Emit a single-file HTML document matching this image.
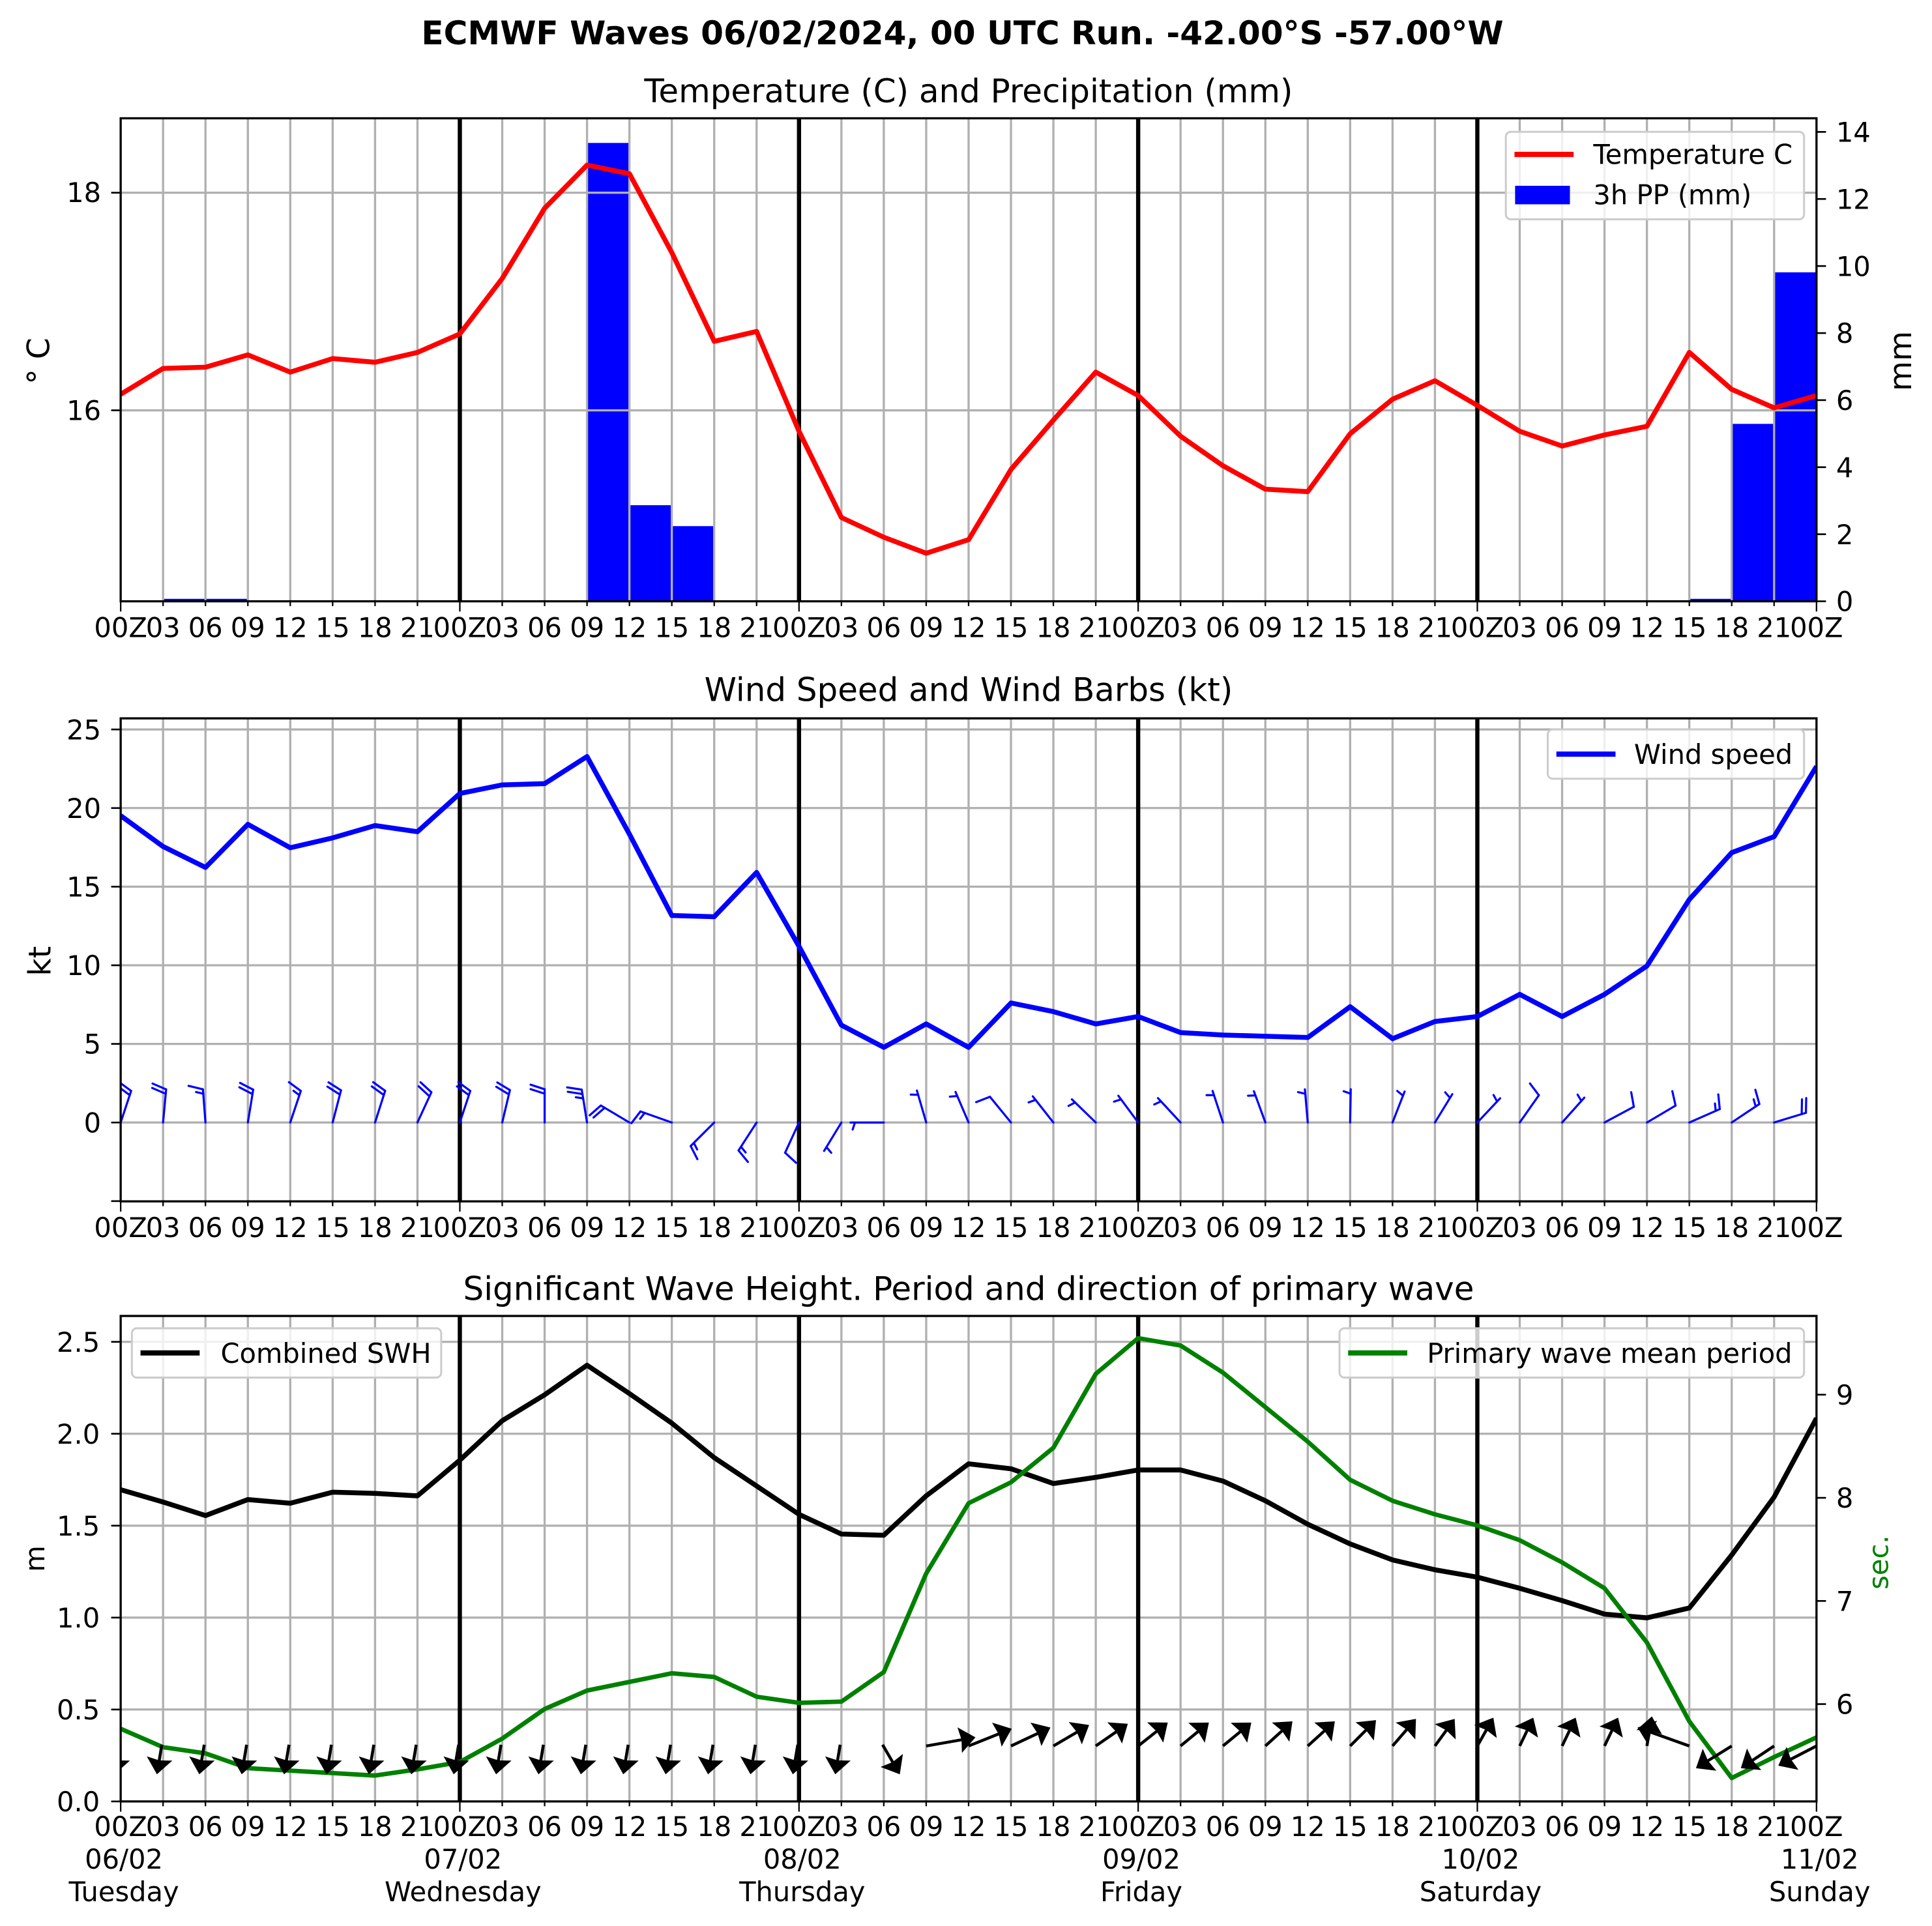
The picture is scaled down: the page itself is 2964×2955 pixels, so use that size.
<!DOCTYPE html>
<html><head><meta charset="utf-8">
<style>
html,body{margin:0;padding:0;background:#fff;}
svg{display:block;}
text{font-family:"DejaVu Sans","Liberation Sans",sans-serif;fill:#000;}
.t{font-size:22px;}
.xl text{font-size:22px;text-anchor:middle;}
.yl{font-size:22px;text-anchor:end;}
.yr{font-size:22px;text-anchor:start;}
</style></head>
<body>
<svg id="s" xmlns="http://www.w3.org/2000/svg" width="2964" height="2955" viewBox="0 0 1567.8 1563.1">
<defs>
<clipPath id="c1"><rect x="97.9" y="96" width="1376.2" height="392"/></clipPath>
<clipPath id="c2"><rect x="97.9" y="583" width="1376.2" height="392"/></clipPath>
<clipPath id="c3"><rect x="97.9" y="1068" width="1376.2" height="394"/></clipPath>
</defs>
<rect width="1567.8" height="1563.1" fill="#fff"/>
<g id="geo"></g>

<text x="781" y="36" style="font-size:26.5px;font-weight:bold" text-anchor="middle">ECMWF Waves 06/02/2024, 00 UTC Run. -42.00°S -57.00°W</text>
<text x="786" y="83" style="font-size:26.4px" text-anchor="middle">Temperature (C) and Precipitation (mm)</text>
<text x="786" y="569" style="font-size:26.4px" text-anchor="middle">Wind Speed and Wind Barbs (kt)</text>
<text x="786" y="1055" style="font-size:26.4px" text-anchor="middle">Significant Wave Height. Period and direction of primary wave</text>

<text transform="translate(40,293) rotate(-90)" style="font-size:25px" text-anchor="middle">° C</text>
<text transform="translate(1551,293) rotate(-90)" style="font-size:25px" text-anchor="middle">mm</text>
<text transform="translate(41,780) rotate(-90)" style="font-size:25px" text-anchor="middle">kt</text>
<text transform="translate(36,1265) rotate(-90)" style="font-size:22px" text-anchor="middle">m</text>
<text transform="translate(1532,1268) rotate(-90)" style="font-size:22px;fill:#008000" text-anchor="middle">sec.</text>

<text class="yl" x="82" y="164">18</text>
<text class="yl" x="82" y="341">16</text>
<text class="yr" x="1490" y="496">0</text>
<text class="yr" x="1490" y="441.6">2</text>
<text class="yr" x="1490" y="387.2">4</text>
<text class="yr" x="1490" y="332.8">6</text>
<text class="yr" x="1490" y="278.3">8</text>
<text class="yr" x="1490" y="223.9">10</text>
<text class="yr" x="1490" y="169.5">12</text>
<text class="yr" x="1490" y="115.1">14</text>

<text class="yl" x="82" y="600">25</text>
<text class="yl" x="82" y="663.8">20</text>
<text class="yl" x="82" y="727.6">15</text>
<text class="yl" x="82" y="791.4">10</text>
<text class="yl" x="82" y="855.2">5</text>
<text class="yl" x="82" y="919">0</text>

<text class="yl" x="81" y="1097">2.5</text>
<text class="yl" x="81" y="1171.6">2.0</text>
<text class="yl" x="81" y="1246.2">1.5</text>
<text class="yl" x="81" y="1320.8">1.0</text>
<text class="yl" x="81" y="1395.4">0.5</text>
<text class="yl" x="81" y="1470">0.0</text>
<text class="yr" x="1490" y="1140">9</text>
<text class="yr" x="1490" y="1223.6">8</text>
<text class="yr" x="1490" y="1307.3">7</text>
<text class="yr" x="1490" y="1391">6</text>

<g class="xl">
<text x="97.9" y="517">00Z</text><text x="132.3" y="517">03</text><text x="166.7" y="517">06</text><text x="201.1" y="517">09</text><text x="235.5" y="517">12</text><text x="269.9" y="517">15</text><text x="304.3" y="517">18</text><text x="338.7" y="517">21</text>
<text x="373.1" y="517">00Z</text><text x="407.5" y="517">03</text><text x="441.95" y="517">06</text><text x="476.4" y="517">09</text><text x="510.8" y="517">12</text><text x="545.2" y="517">15</text><text x="579.6" y="517">18</text><text x="614" y="517">21</text>
<text x="648.4" y="517">00Z</text><text x="682.8" y="517">03</text><text x="717.2" y="517">06</text><text x="751.6" y="517">09</text><text x="786" y="517">12</text><text x="820.4" y="517">15</text><text x="854.8" y="517">18</text><text x="889.2" y="517">21</text>
<text x="923.6" y="517">00Z</text><text x="958" y="517">03</text><text x="992.4" y="517">06</text><text x="1026.8" y="517">09</text><text x="1061.2" y="517">12</text><text x="1095.6" y="517">15</text><text x="1130.05" y="517">18</text><text x="1164.5" y="517">21</text>
<text x="1198.9" y="517">00Z</text><text x="1233.3" y="517">03</text><text x="1267.7" y="517">06</text><text x="1302.1" y="517">09</text><text x="1336.5" y="517">12</text><text x="1370.9" y="517">15</text><text x="1405.3" y="517">18</text><text x="1439.7" y="517">21</text>
<text x="1474.1" y="517">00Z</text>
</g>
<g class="xl">
<text x="97.9" y="1004">00Z</text><text x="132.3" y="1004">03</text><text x="166.7" y="1004">06</text><text x="201.1" y="1004">09</text><text x="235.5" y="1004">12</text><text x="269.9" y="1004">15</text><text x="304.3" y="1004">18</text><text x="338.7" y="1004">21</text>
<text x="373.1" y="1004">00Z</text><text x="407.5" y="1004">03</text><text x="441.95" y="1004">06</text><text x="476.4" y="1004">09</text><text x="510.8" y="1004">12</text><text x="545.2" y="1004">15</text><text x="579.6" y="1004">18</text><text x="614" y="1004">21</text>
<text x="648.4" y="1004">00Z</text><text x="682.8" y="1004">03</text><text x="717.2" y="1004">06</text><text x="751.6" y="1004">09</text><text x="786" y="1004">12</text><text x="820.4" y="1004">15</text><text x="854.8" y="1004">18</text><text x="889.2" y="1004">21</text>
<text x="923.6" y="1004">00Z</text><text x="958" y="1004">03</text><text x="992.4" y="1004">06</text><text x="1026.8" y="1004">09</text><text x="1061.2" y="1004">12</text><text x="1095.6" y="1004">15</text><text x="1130.05" y="1004">18</text><text x="1164.5" y="1004">21</text>
<text x="1198.9" y="1004">00Z</text><text x="1233.3" y="1004">03</text><text x="1267.7" y="1004">06</text><text x="1302.1" y="1004">09</text><text x="1336.5" y="1004">12</text><text x="1370.9" y="1004">15</text><text x="1405.3" y="1004">18</text><text x="1439.7" y="1004">21</text>
<text x="1474.1" y="1004">00Z</text>
</g>
<g class="xl">
<text x="97.9" y="1490">00Z</text><text x="132.3" y="1490">03</text><text x="166.7" y="1490">06</text><text x="201.1" y="1490">09</text><text x="235.5" y="1490">12</text><text x="269.9" y="1490">15</text><text x="304.3" y="1490">18</text><text x="338.7" y="1490">21</text>
<text x="373.1" y="1490">00Z</text><text x="407.5" y="1490">03</text><text x="441.95" y="1490">06</text><text x="476.4" y="1490">09</text><text x="510.8" y="1490">12</text><text x="545.2" y="1490">15</text><text x="579.6" y="1490">18</text><text x="614" y="1490">21</text>
<text x="648.4" y="1490">00Z</text><text x="682.8" y="1490">03</text><text x="717.2" y="1490">06</text><text x="751.6" y="1490">09</text><text x="786" y="1490">12</text><text x="820.4" y="1490">15</text><text x="854.8" y="1490">18</text><text x="889.2" y="1490">21</text>
<text x="923.6" y="1490">00Z</text><text x="958" y="1490">03</text><text x="992.4" y="1490">06</text><text x="1026.8" y="1490">09</text><text x="1061.2" y="1490">12</text><text x="1095.6" y="1490">15</text><text x="1130.05" y="1490">18</text><text x="1164.5" y="1490">21</text>
<text x="1198.9" y="1490">00Z</text><text x="1233.3" y="1490">03</text><text x="1267.7" y="1490">06</text><text x="1302.1" y="1490">09</text><text x="1336.5" y="1490">12</text><text x="1370.9" y="1490">15</text><text x="1405.3" y="1490">18</text><text x="1439.7" y="1490">21</text>
<text x="1474.1" y="1490">00Z</text>
<text x="100.5" y="1516.5">06/02</text><text x="100.5" y="1543">Tuesday</text>
<text x="375.7" y="1516.5">07/02</text><text x="375.7" y="1543">Wednesday</text>
<text x="651" y="1516.5">08/02</text><text x="651" y="1543">Thursday</text>
<text x="926.2" y="1516.5">09/02</text><text x="926.2" y="1543">Friday</text>
<text x="1201.5" y="1516.5">10/02</text><text x="1201.5" y="1543">Saturday</text>
<text x="1476.7" y="1516.5">11/02</text><text x="1476.7" y="1543">Sunday</text>
</g>

<g id="leg">
<rect x="1222" y="107" width="242" height="71" rx="4" fill="#fff" fill-opacity="0.8" stroke="#cccccc" stroke-width="1.6"/>
<line x1="1229" y1="125.3" x2="1277" y2="125.3" stroke="#ff0000" stroke-width="4.2"/>
<text class="t" x="1293" y="133">Temperature C</text>
<rect x="1229.5" y="150.8" width="44.5" height="15" fill="#0000ff"/>
<text class="t" x="1293" y="165.7">3h PP (mm)</text>

<rect x="1256" y="592" width="208" height="40" rx="4" fill="#fff" fill-opacity="0.8" stroke="#cccccc" stroke-width="1.6"/>
<line x1="1263" y1="612" x2="1311" y2="612" stroke="#0000ff" stroke-width="4.2"/>
<text class="t" x="1326" y="620">Wind speed</text>

<rect x="107" y="1078" width="251" height="40" rx="4" fill="#fff" fill-opacity="0.8" stroke="#cccccc" stroke-width="1.6"/>
<line x1="114" y1="1098" x2="162" y2="1098" stroke="#000" stroke-width="4.2"/>
<text class="t" x="179" y="1106">Combined SWH</text>

<rect x="1087" y="1078" width="377" height="40" rx="4" fill="#fff" fill-opacity="0.8" stroke="#cccccc" stroke-width="1.6"/>
<line x1="1094" y1="1098" x2="1142" y2="1098" stroke="#008000" stroke-width="4.2"/>
<text class="t" x="1158" y="1106">Primary wave mean period</text>
</g>
</svg>
<script>
(function(){
var NS="http://www.w3.org/2000/svg";
var g=document.getElementById('geo');
function el(n,a,p){var e=document.createElementNS(NS,n);for(var k in a)e.setAttribute(k,a[k]);(p||g).appendChild(e);return e;}
function X(i){return 97.9+34.405*i;}
var L=97.9,R=1474.1;
var P=[[96,488],[583,975],[1068,1462]];
var GR="#b0b0b0",GW=1.76;
var bars={1:486,2:486,11:116,12:410,13:427,37:486,38:344,39:221};
var gb=el('g',{'clip-path':'url(#c1)'});
for(var k in bars){el('rect',{x:X(+k),y:bars[k],width:34.405,height:488-bars[k],fill:'#0000ff'},gb);}
P.forEach(function(p){
  for(var i=1;i<40;i++){ if(i%8)el('line',{x1:X(i),y1:p[0],x2:X(i),y2:p[1],stroke:GR,'stroke-width':GW});}
});
[156.4,333].forEach(function(y){el('line',{x1:L,y1:y,x2:R,y2:y,stroke:GR,'stroke-width':GW});});
for(var k=0;k<=25;k+=5){var y=911-12.76*k;el('line',{x1:L,y1:y,x2:R,y2:y,stroke:GR,'stroke-width':GW});}
for(var m=0.5;m<=2.5;m+=0.5){var y=1462-149.2*m;el('line',{x1:L,y1:y,x2:R,y2:y,stroke:GR,'stroke-width':GW});}
P.forEach(function(p){[8,16,24,32].forEach(function(i){el('line',{x1:X(i),y1:p[0],x2:X(i),y2:p[1],stroke:'#000',"stroke-width":3.4});});});
function poly(arr,col,w,clip){var pts=arr.map(function(y,i){return X(i).toFixed(2)+','+y;}).join(' ');
 el('polyline',{points:pts,fill:'none',stroke:col,'stroke-width':w,'stroke-linejoin':'round','clip-path':'url(#'+clip+')'});}
var T=[320,299,298,288,302,291,294,286,271,226,169,134,141,205,277,269,350,420,436,449,438,381,341,302,321,354,378,397,399,352,324,309,329,350,362,353,346,286,316,331,321];
var W=[662,687,704,669,688,680,670,675,644,637,636,614,677,743,744,708,768,832,850,831,850,814,821,831,825,838,840,841,842,817,843,829,825,807,825,807,784,730,692,679,622];
var S=[1209,1219,1230,1217,1220,1211,1212,1214,1185,1153,1132,1108,1131,1155,1183,1206,1229,1245,1246,1214,1188,1192,1204,1199,1193,1193,1202,1218,1237,1253,1266,1274,1280,1289,1299,1310,1313,1305,1262,1215,1151];
var G=[1403,1418,1423,1435,1437,1439,1441,1436,1430,1411,1387,1372,1365,1358,1361,1377,1382,1381,1357,1277,1220,1203,1175,1115,1086,1092,1114,1142,1170,1201,1218,1229,1238,1250,1268,1289,1333,1397,1443,1426,1410];
poly(T,'#ff0000',4,'c1');
poly(W,'#0000ff',4,'c2');
var D=[[8.6,-26],[2.6,-28],[-2,-26],[4.4,-27],[8.7,-26],[7,-27],[8.6,-27],[10.6,-23],[8.6,-26],[6.4,-27],[0,-26],[-4.5,-28],[-23.9,-14.2],[-25.5,-9],[-18.6,18.6],[-14.6,22.6],[-11.3,24.6],[-14,23],[-26.7,0],[-7.7,-26.5],[-11,-25.7],[-18,-22],[-17,-21.6],[-19.6,-19],[-16,-21.6],[-18.9,-20.4],[-8.6,-26.2],[-9.6,-26.2],[-2.4,-27.8],[0.5,-27.8],[10,-25.7],[14.4,-23.5],[19.2,-20.4],[15.8,-22.5],[18.2,-20.4],[24,-12.9],[23,-13.6],[25,-11],[22,-14.7],[25,-7.6],[25,-5]];
var gbb=el('g',{'clip-path':'url(#c2)',stroke:'#0000ff','stroke-width':1.7,fill:'none','stroke-linecap':'round'});
D.forEach(function(d,i){
 var x0=X(i),y0=911,len=Math.sqrt(d[0]*d[0]+d[1]*d[1]),ux=d[0]/len,uy=d[1]/len;
 var sx=x0+ux*27,sy=y0+uy*27;
 el('line',{x1:x0,y1:y0,x2:sx,y2:sy},gbb);
 var sp=(911-W[i])/12.76,n=Math.round(sp/5),full=Math.floor(n/2),half=n%2;
 var a=Math.atan2(uy,ux)-72*Math.PI/180,fx=Math.cos(a),fy=Math.sin(a);
 var pos=0;
 for(var f=0;f<full;f++){var bx=sx-ux*pos,by=sy-uy*pos;el('line',{x1:bx,y1:by,x2:bx+fx*12,y2:by+fy*12},gbb);pos+=3.6;}
 if(half){if(full===0)pos=3.6;var bx=sx-ux*pos,by=sy-uy*pos;el('line',{x1:bx,y1:by,x2:bx+fx*6,y2:by+fy*6},gbb);}
});
poly(S,'#000',4,'c3');
poly(G,'#008000',3.6,'c3');
var ga=el('g',{'clip-path':'url(#c3)'});
var AV=[[19,40,-7],[20,35,-14],[21,32,-15],[22,29,-17],[23,26,-18],[24,24,-19],[25,23,-19],[26,23,-19],[27,22,-20],[28,22,-20],[29,21,-21],[30,19,-22],[31,16,-22],[32,13,-23],[33,11,-23],[34,11,-23],[35,11,-23],[36,4,-24],[37,-42,-15],[38,-29,18],[39,-27,18],[40,-31,16]];
function arrow(tx,ty,dx,dy){
 var l=Math.sqrt(dx*dx+dy*dy),ux=dx/l,uy=dy/l,nx=-uy,ny=ux;
 var hx=tx+dx,hy=ty+dy,HL=13,HW=10.5,HA=11.5;
 var bx=hx-ux*HL,by=hy-uy*HL, cx=hx-ux*HA,cy=hy-uy*HA;
 el('line',{x1:tx,y1:ty,x2:cx,y2:cy,stroke:'#000','stroke-width':2.4},ga);
 el('polygon',{points:[hx,hy,bx+nx*HW,by+ny*HW,cx,cy,bx-nx*HW,by-ny*HW].map(function(v){return v.toFixed(2);}).join(' '),fill:'#000'},ga);
}
for(var i=0;i<=17;i++)arrow(X(i)-1,1416,-4,24);
arrow(X(18)-1,1416,14,24);
AV.forEach(function(a){arrow(X(a[0]),1417,a[1],a[2]);});
P.forEach(function(p){el('rect',{x:L,y:p[0],width:R-L,height:p[1]-p[0],fill:'none',stroke:'#000','stroke-width':1.76});});
P.forEach(function(p){for(var i=0;i<=40;i++){var len=(i%8===0)?8.3:3.9;el('line',{x1:X(i),y1:p[1],x2:X(i),y2:p[1]+len,stroke:'#000','stroke-width':1.2});}});
function yt(x,y,dir){el('line',{x1:x,y1:y,x2:x+dir*7.7,y2:y,stroke:'#000','stroke-width':1.4});}
[156.4,333].forEach(function(y){yt(L,y,-1);});
for(var k=0;k<=14;k+=2)yt(R,488-27.21*k,1);
for(var k=-5;k<=25;k+=5)yt(L,911-12.76*k,-1);
for(var m=0;m<=2.5;m+=0.5)yt(L,1462-149.2*m,-1);
for(var s=6;s<=9;s++)yt(R,1383-83.7*(s-6),1);
var sv=document.getElementById('s');sv.appendChild(document.getElementById('leg'));
})();
</script>
</body></html>
